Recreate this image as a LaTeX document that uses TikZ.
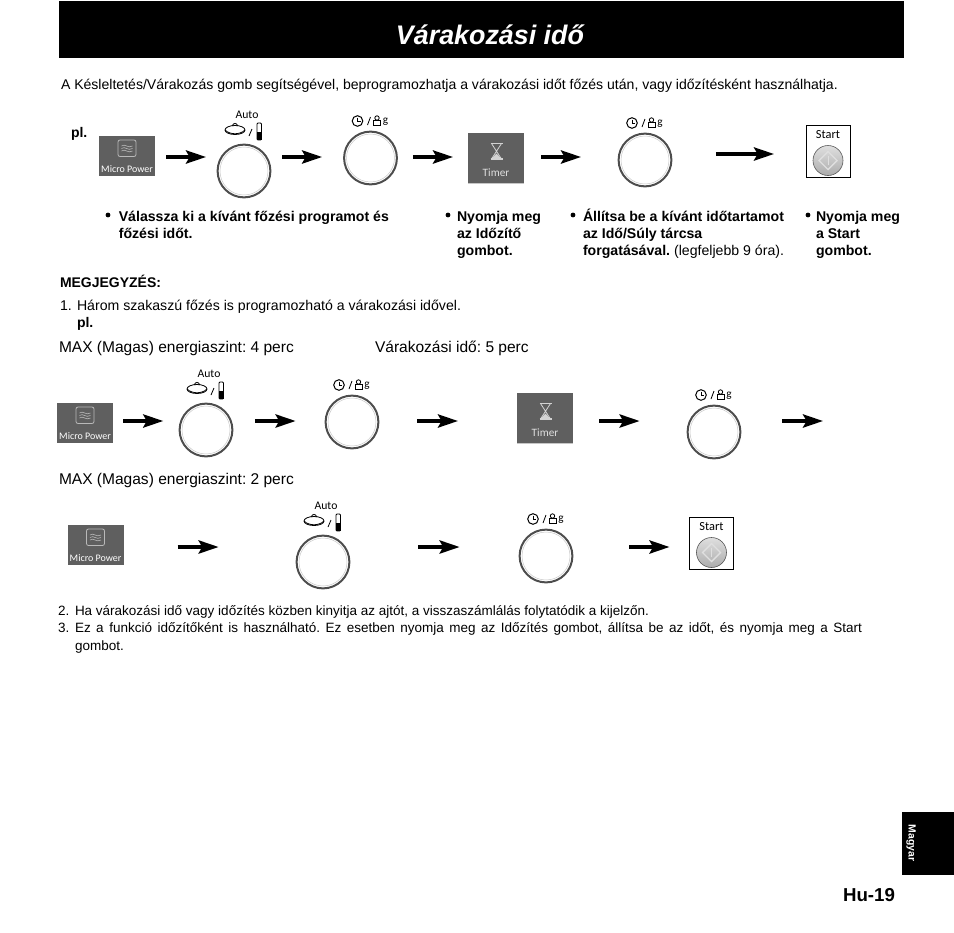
\documentclass[tikz,border=0pt]{standalone}
\usepackage{fontspec}
\setmainfont{Liberation Sans}
\newfontfamily\panelfont{Carlito}
\usetikzlibrary{arrows.meta,positioning,calc}
\definecolor{panelGray}{HTML}{5F5F5F}
\definecolor{ringGray}{HTML}{4D4D4D}
\frenchspacing
\begin{document}
\begin{tikzpicture}[x=0.25mm,y=-0.25mm,
  body/.style={font=\fontsize{10.05}{12.1}\selectfont,anchor=base west,inner sep=0,outer sep=0},
  bodyb/.style={body,font=\fontsize{9.95}{12.1}\selectfont\bfseries},
  item/.style={body,font=\fontsize{9.6}{12.1}\selectfont},
  parab/.style={anchor=north west,align=left,inner sep=0,outer sep=0,font=\fontsize{10.05}{12.1}\selectfont\bfseries},
  big/.style={font=\fontsize{11.05}{12.1}\selectfont,anchor=base west,inner sep=0,outer sep=0},
  bul/.style={circle,fill=black,inner sep=0,minimum size=1.2mm},
  msg/.style={-{Stealth[length=5mm,width=3.3mm,inset=0.9mm]},line width=0.85mm},
  panel/.style={font=\panelfont\fontsize{7.1}{8}\selectfont,inner sep=0},
  ring/.style={circle,draw=ringGray,line width=0.5mm,minimum size=13.2mm,inner sep=0,outer sep=0},
  micro/.pic={
    \node[fill=panelGray,minimum width=14mm,minimum height=10mm,inner sep=0,outer sep=0] (box) at (0,0) {};
    \node[panel,text=white] (txt) at (0,13.5) {Micro Power};
    \draw[gray!55,rounded corners=0.5mm,line width=0.2mm] (-9,-15.5) rectangle (9,1);
    \foreach \h in {-9.5,-7,-4.5}{\draw[gray!55,line width=0.15mm] (-5.5,\h) .. controls (-2,\h-3) and (1,\h+3) .. (5.5,\h);}
  },
  timer/.pic={
    \node[fill=panelGray,minimum width=14mm,minimum height=12.7mm,inner sep=0,outer sep=0] (box) at (0,0) {};
    \node[panel,text=gray!25,font=\panelfont\fontsize{8}{9}\selectfont] (txt) at (0,14) {Timer};
    \draw[gray!35,line width=0.3mm] (-5.5,-15) -- (6.5,-15) (-5.5,0.5) -- (6.5,0.5);
    \draw[gray!35,line width=0.2mm] (-4.5,-15) -- (5.5,0.5) (5.5,-15) -- (-4.5,0.5);
    \fill[gray!35] (-4.5,0.5) -- (5.5,0.5) -- (0.5,-5) -- cycle;
    \draw[gray!45,line width=0.2mm] (-28,24.5) -- (28,24.5);
  },
  autodial/.pic={
    \node[ring] (ring) at (0,0) {};
    \draw[gray!45,line width=0.12mm] (0,0) circle (24);
    \node[panel,font=\panelfont\fontsize{8.3}{9}\selectfont] (auto) at (3,-56) {Auto};
    \draw[line width=0.2mm] (-9,-41) ellipse (10 and 4.5);
    \draw[line width=0.2mm] (-19,-41) .. controls (-14,-36) and (-4,-36) .. (1,-41);
    \draw[line width=0.2mm] (-12,-45) .. controls (-10,-48.5) and (-8,-48.5) .. (-6,-45);
    \draw[line width=0.2mm] (5,-35) -- (8,-42);
    \draw[line width=0.2mm,rounded corners=0.25mm] (13,-48) rectangle (17.5,-31);
    \fill (13,-39) rectangle (17.5,-31);
  },
  timedial/.pic={
    \node[ring] (ring) at (0,0) {};
    \draw[gray!45,line width=0.12mm] (0,0) circle (24);
    \draw[line width=0.25mm] (-13,-37) circle (5.3);
    \draw[line width=0.25mm] (-13,-40.5) -- (-13,-37) -- (-10,-37);
    \draw[line width=0.2mm] (-3,-33) -- (0,-41);
    \draw[line width=0.2mm] (3,-33) -- (3,-38) -- (10,-38) -- (10,-33) -- cycle;
    \draw[line width=0.2mm] (6.5,-40) circle (2.2);
    \node[panel,font=\panelfont\fontsize{8}{9}\selectfont] (g) at (15,-36) {g};
  },
  startbtn/.pic={
    \node[draw=black,line width=0.25mm,minimum width=11mm,minimum height=13mm,inner sep=0,outer sep=0] (box) at (0,0) {};
    \node[panel,font=\panelfont\fontsize{8.8}{9}\selectfont] (txt) at (0,-16) {Start};
    \draw[gray!70!black,top color=gray!25,bottom color=gray!65,line width=0.15mm] (0,9.5) circle (15);
    \draw[gray!25,line width=0.35mm] (-9,9.5) -- (0,0.5) -- (9,9.5) -- (0,18.5) -- cycle;
    \draw[gray!25,line width=0.2mm] (0,5) -- (0,14);
  }]
  \useasboundingbox (0,0) rectangle (954,932);
  % header
  \node[fill=black,minimum width=211.25mm,minimum height=14.25mm,inner sep=0,outer sep=0] (head) at (481.5,29.5) {};
  \node[text=white,font=\fontsize{19.1}{21}\selectfont\bfseries\itshape,inner sep=0] (title) at (490,35) {Várakozási idő};
  \node[body,font=\fontsize{10}{12.1}\selectfont] (intro) at (61,89) {A Késleltetés/Várakozás gomb segítségével, beprogramozhatja a várakozási időt főzés után, vagy időzítésként használhatja.};
  % first row
  \node[bodyb] (pl1) at (71,137) {pl.};
  \pic (M1) at (127,155.5) {micro};
  \pic (D1) at (244,171) {autodial};
  \pic (D2) at (370.5,158) {timedial};
  \pic (T1) at (496,158.5) {timer};
  \pic (D3) at (645,160) {timedial};
  \pic (S1) at (828,151) {startbtn};
  \draw[msg,shorten <=2.75mm,shorten >=2.9mm] (M1box.east|-0,157) -- (D1ring.west|-0,157);
  \draw[msg,shorten <=2.9mm,shorten >=5.5mm] (D1ring.east|-0,157) -- (D2ring.west|-0,157);
  \draw[msg,shorten <=4mm,shorten >=3.75mm] (D2ring.east|-0,157) -- (T1box.west|-0,157);
  \draw[msg,shorten <=4.25mm,shorten >=9.4mm] (T1box.east|-0,157) -- (D3ring.west|-0,157);
  \draw[msg,shorten <=11.1mm,shorten >=8mm] (D3ring.east|-0,154) -- (S1box.west|-0,154);
  % notes under the first row
  \node[bul] (b1) at (108,215) {};
  \node[parab,right=2.7mm of b1.center,anchor=north west,yshift=1.0mm] (n1) {Válassza ki a kívánt főzési programot és\\főzési időt.};
  \node[bul] (b2) at (448,215) {};
  \node[parab,right=2.25mm of b2.center,anchor=north west,yshift=1.0mm] (n2) {Nyomja meg\\az Időzítő\\gombot.};
  \node[bul] (b3) at (573,215) {};
  \node[parab,right=2.5mm of b3.center,anchor=north west,yshift=1.5mm] (n3) {Állítsa be a kívánt időtartamot\\az Idő/Súly tárcsa\\forgatásával. {\mdseries (legfeljebb 9 óra).}};
  \node[bul] (b4) at (808,215) {};
  \node[parab,right=2mm of b4.center,anchor=north west,yshift=1.0mm] (n4) {Nyomja meg\\a Start\\gombot.};
  % note block
  \node[bodyb] (megj) at (60,287) {MEGJEGYZÉS:};
  \node[body] (num1) at (60,310) {1.};
  \node[body] (item1) at (77,310) {Három szakaszú főzés is programozható a várakozási idővel.};
  \node[bodyb] (pl2) at (77,327) {pl.};
  \node[big] (max4) at (59,352) {MAX (Magas) energiaszint: 4 perc};
  \node[big] (var5) at (375,352) {Várakozási idő: 5 perc};
  % second row
  \pic (M2) at (85,422.5) {micro};
  \pic (D4) at (206,430) {autodial};
  \pic (D5) at (352,422) {timedial};
  \pic (T2) at (545,418.5) {timer};
  \pic (D6) at (714,432) {timedial};
  \coordinate (end2) at (823,421);
  \draw[msg,shorten <=2.5mm,shorten >=4.1mm] (M2box.east|-0,421) -- (D4ring.west|-0,421);
  \draw[msg,shorten <=5.6mm,shorten >=7.5mm] (D4ring.east|-0,421) -- (D5ring.west|-0,421);
  \draw[msg,shorten <=9.75mm,shorten >=14.75mm] (D5ring.east|-0,421) -- (T2box.west|-0,421);
  \draw[msg,shorten <=6.5mm,shorten >=12mm] (T2box.east|-0,421) -- (D6ring.west|-0,421);
  \draw[msg,shorten <=10.5mm] (D6ring.east|-0,421) -- (end2);
  \node[big] (max2) at (59,484) {MAX (Magas) energiaszint: 2 perc};
  % third row
  \pic (M3) at (95.5,544.5) {micro};
  \pic (D7) at (323,562) {autodial};
  \pic (D8) at (546,556) {timedial};
  \pic (S2) at (711.5,543) {startbtn};
  \draw[msg,shorten <=13.5mm,shorten >=19.5mm] (M3box.east|-0,547) -- (D7ring.west|-0,547);
  \draw[msg,shorten <=17.25mm,shorten >=15mm] (D7ring.east|-0,547) -- (D8ring.west|-0,547);
  \draw[msg,shorten <=14.25mm,shorten >=5mm] (D8ring.east|-0,547) -- (S2box.west|-0,547);
  % remaining items
  \node[item] (num2) at (58,615) {2.};
  \node[item] (item2) at (75,615) {Ha várakozási idő vagy időzítés közben kinyitja az ajtót, a visszaszámlálás folytatódik a kijelzőn.};
  \node[item] (num3) at (58,632) {3.};
  \node[item] (item3) at (75,632) {\makebox[196.75mm][s]{Ez a funkció időzítőként is használható. Ez esetben nyomja meg az Időzítés gombot, állítsa be az időt, és nyomja meg a Start}};
  \node[item] (item3b) at (75,650) {gombot.};
  % side tab and page number
  \node[fill=black,minimum width=13mm,minimum height=15.75mm,inner sep=0,outer sep=0] (tab) at (928,843.5) {};
  \node[text=white,rotate=-90,font=\fontsize{7.4}{8}\selectfont\bfseries,inner sep=0] (lang) at (911,843) {Magyar};
  \node[body,font=\fontsize{13.3}{15}\selectfont\bfseries] (page) at (843,901) {Hu-19};
\end{tikzpicture}
\end{document}
